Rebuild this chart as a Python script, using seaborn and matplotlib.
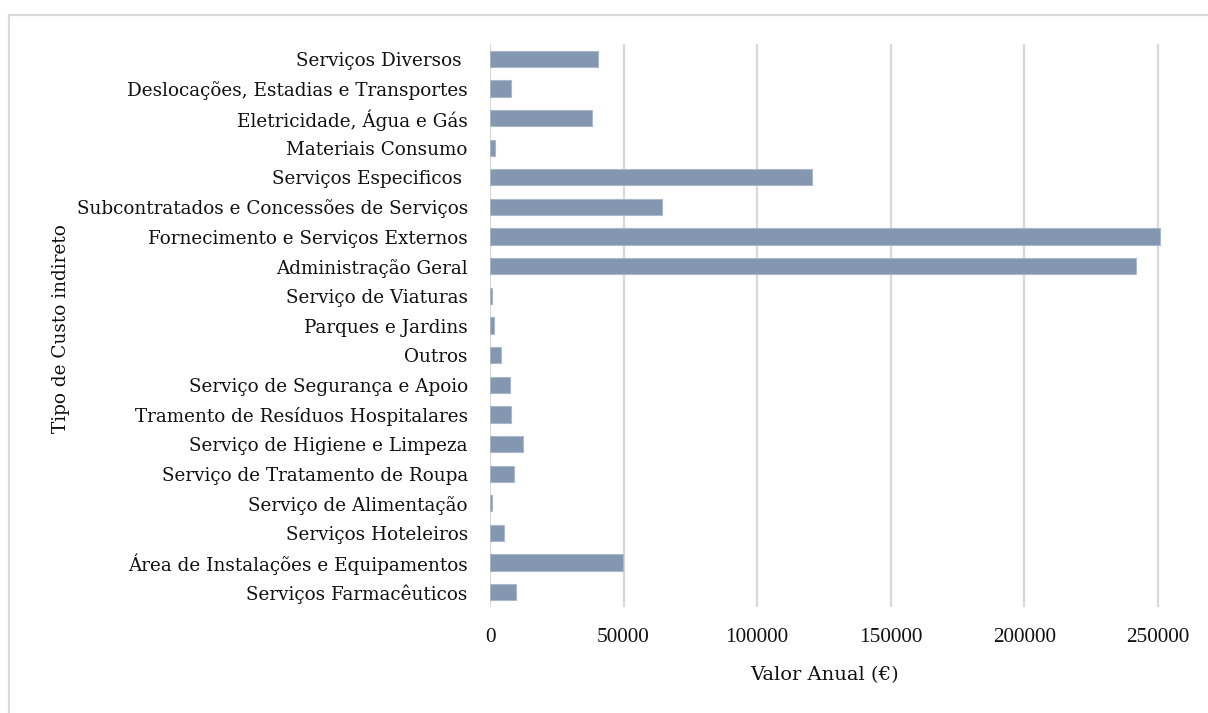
import matplotlib
matplotlib.use("Agg")
import matplotlib.pyplot as plt
import matplotlib.patches as mpatches
import seaborn as sns
import pandas as pd

# Indirect cost categories (top to bottom) and their annual values in euros
categorias = [
    "Serviços Diversos ",
    "Deslocações, Estadias e Transportes",
    "Eletricidade, Água e Gás",
    "Materiais Consumo",
    "Serviços Especificos ",
    "Subcontratados e Concessões de Serviços",
    "Fornecimento e Serviços Externos",
    "Administração Geral",
    "Serviço de Viaturas",
    "Parques e Jardins",
    "Outros",
    "Serviço de Segurança e Apoio",
    "Tramento de Resíduos Hospitalares",
    "Serviço de Higiene e Limpeza",
    "Serviço de Tratamento de Roupa",
    "Serviço de Alimentação",
    "Serviços Hoteleiros",
    "Área de Instalações e Equipamentos",
    "Serviços Farmacêuticos",
]
valores = [
    40600, 7900, 38100, 2000, 120700, 64300, 250800, 242000,
    850, 1500, 4000, 7600, 7750, 12200, 9000, 700, 5100, 49800, 9600,
]
x_ticks = [0, 50000, 100000, 150000, 200000, 250000]

df = pd.DataFrame({"categoria": categorias, "valor": valores})

sns.set_theme(style="white")
plt.rcParams["font.family"] = ["DejaVu Serif"]

fig = plt.figure(figsize=(12.08, 7.13), dpi=100)
ax = fig.add_axes([490 / 1208, 1 - 607 / 713, 673 / 1208, 563 / 713])

sns.barplot(data=df, x="valor", y="categoria", orient="h", color="#8497B0",
            saturation=1, width=0.55, edgecolor="#aab8ca", linewidth=0.8, ax=ax)

ax.set_xlim(0, 252000)
ax.set_xticks(x_ticks)
ax.set_xticklabels([str(t) for t in x_ticks], family="Liberation Serif",
                   fontsize=15.3)
ax.grid(axis="x", color="#d9d9d9", linewidth=1.6)
ax.grid(axis="y", visible=False)
ax.set_axisbelow(True)
for s in ax.spines.values():
    s.set_visible(False)

ax.tick_params(axis="y", length=0, pad=16, labelsize=13.2, labelcolor="#111111")
ax.tick_params(axis="x", length=0, pad=15, labelcolor="#111111")
ax.set_xlabel("Valor Anual (€)", fontsize=14, color="#111111")
ax.set_ylabel("Tipo de Custo indireto", fontsize=13.3, color="#111111")
ax.xaxis.set_label_coords((824 - 490) / 673, -(675 - 607) / 563)
ax.yaxis.set_label_coords((61 - 490) / 673, (607 - 329) / 563)
ax.xaxis.label.set_verticalalignment("center")
ax.yaxis.label.set_verticalalignment("center")

# Light chart frame around the figure
frame = mpatches.Rectangle((9 / 1208, -0.1), 1.2, 1.1 - 15 / 713,
                           transform=fig.transFigure, fill=False,
                           edgecolor="#d9d9d9", linewidth=1.6)
fig.patches.append(frame)

fig.savefig("out.png", dpi=100)
